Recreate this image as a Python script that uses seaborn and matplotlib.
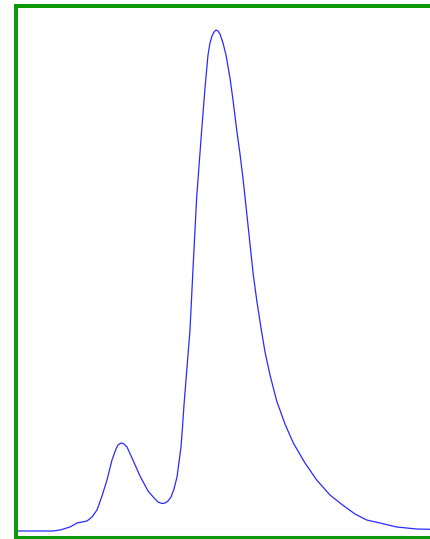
import numpy as np
import pandas as pd
import matplotlib
matplotlib.use("Agg")
import matplotlib.pyplot as plt
import seaborn as sns

# curve: x = position along axis, y = height above baseline
x_vals = [1.5, 37.5, 44.5, 54.5, 61.5, 71.5, 76.5, 81.5, 86.5, 91.5, 96.5, 100.5,
          102.5, 105.5, 108.5, 111.5, 116.5, 124.5, 132.5, 139.5, 142.5, 146.5,
          149.5, 152.5, 155.5, 158.5, 161.5, 163.5, 165.5, 166.8, 168.5, 170.5,
          172.5, 174.5, 177.8, 181.2, 186.2, 189.5, 192.5, 194.5, 196.5, 198.5,
          200.5, 202.5, 204.5, 207.5, 210.5, 214.5, 217.5, 221.2, 224.5, 227.8,
          232.8, 237.8, 241.2, 245.5, 249.5, 254.5, 261.2, 269.5, 277.8, 289.5,
          301.2, 314.5, 324.5, 331.2, 339.5, 351.2, 364.5, 381.2, 401.2, 414.5]
y_vals = [6, 6, 7, 10, 14, 16, 20, 27, 41, 57, 77, 88, 92, 94, 93, 90, 79, 61,
          46, 38, 35, 33.5, 34, 36, 40, 48, 60, 75, 90, 107, 132, 157, 182, 207,
          274, 340, 407, 449, 482, 494, 501, 505, 507, 506, 503, 494, 482, 459,
          437, 407, 383, 356, 309, 262, 237, 209, 185, 162, 136, 113, 94, 74,
          57, 42, 34, 29, 23, 17, 14, 10, 8, 7.7]

df = pd.DataFrame({"x": x_vals, "y": y_vals})

sns.set_style("white")
fig = plt.figure(figsize=(4.30, 5.39), dpi=100)
ax = fig.add_axes([15.5 / 430, 2 / 539, 1 - 15.5 / 430, (537 - 5.5) / 539])

sns.lineplot(data=df, x="x", y="y", ax=ax, color="#2a2aff", linewidth=0.9)

ax.set_xlim(0, 414.5)
ax.set_ylim(0, 531.5)
ax.set_xticks([])
ax.set_yticks([])
ax.set_xlabel("")
ax.set_ylabel("")

green = "#0a9a0a"
for side in ["left", "top", "bottom"]:
    ax.spines[side].set_color(green)
    ax.spines[side].set_linewidth(2.9)
ax.spines["bottom"].set_linewidth(2.2)
ax.spines["right"].set_visible(False)

fig.savefig("out.png", dpi=100)
